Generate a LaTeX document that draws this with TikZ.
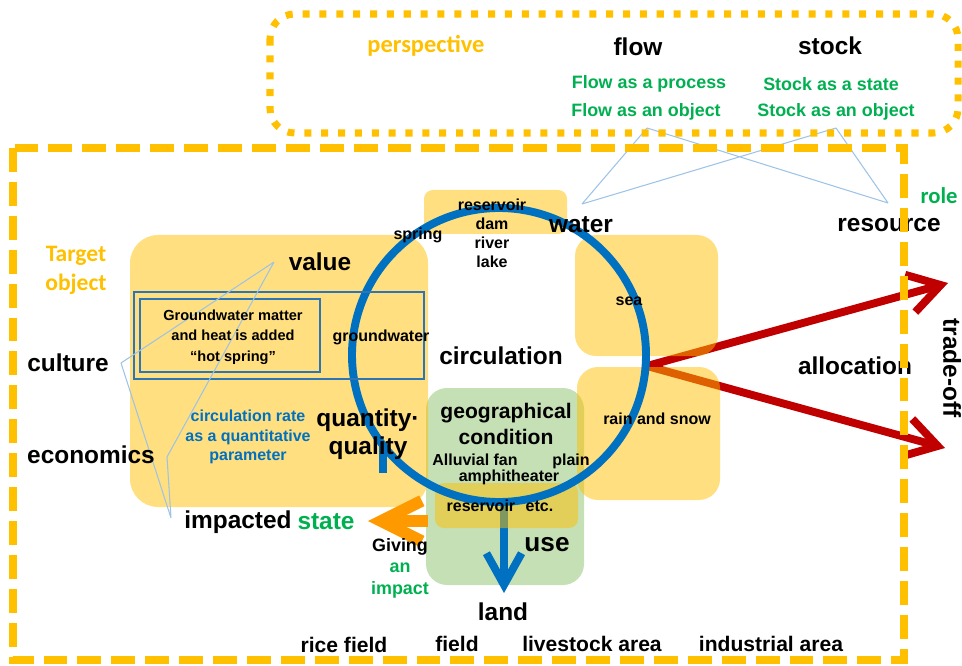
\documentclass[tikz,border=0pt]{standalone}
\usepackage{fontspec}
\setmainfont{Liberation Sans}
\newfontfamily\calibri{Carlito}
\usetikzlibrary{arrows.meta}

\definecolor{frameyellow}{HTML}{FFC000}
\definecolor{rolegreen}{HTML}{00B050}
\definecolor{circblue}{HTML}{0070C0}
\definecolor{rectblue}{HTML}{2E75B6}
\definecolor{thinblue}{HTML}{9DC3E6}
\definecolor{usegreen}{HTML}{C5E0B4}
\definecolor{allocred}{HTML}{C00000}
\definecolor{impactorange}{HTML}{FF9900}

\begin{document}
\begin{tikzpicture}[x=0.02cm, y=-0.02cm,
  big/.style={font=\fontsize{13.9}{16}\selectfont\bfseries},
  mid/.style={font=\fontsize{12}{14.7}\selectfont\bfseries},
  sml/.style={font=\fontsize{9.1}{10.8}\selectfont\bfseries},
  grn/.style={font=\fontsize{10.2}{12}\selectfont\bfseries, text=rolegreen},
  yelbox/.style={fill=frameyellow, fill opacity=0.5, rounded corners=12pt},
  callout/.style={thinblue, line width=0.6pt},
  fatarrow/.style={line width=4.5pt, -{Straight Barb[length=18pt, width=22pt]}}]
\useasboundingbox (0,0) rectangle (962,665);

% allocation arrows, under the boxes
\coordinate (alloc) at (647,366);
\coordinate (tradeup) at (948,283);
\coordinate (tradedn) at (945,448);
\draw[fatarrow, allocred] (alloc) -- (tradeup);
\draw[fatarrow, allocred] (alloc) -- (tradedn);

% boxes
\fill[usegreen, rounded corners=12pt] (426,388) rectangle (584,585);
\fill[yelbox, rounded corners=16pt] (130,235) rectangle (428,507);
\fill[yelbox, rounded corners=5pt] (424,190) rectangle (567,234);
\fill[yelbox] (575,235) rectangle (718,356);
\fill[yelbox] (577,367) rectangle (720,500);

% use arrow, reservoir box and the circulation ring
\coordinate (cc) at (499,355);
\coordinate (circbot) at (504,500);
\coordinate (landtip) at (504,593);
\draw[circblue, line width=4.5pt, -{Straight Barb[length=18pt, width=20pt]}] (circbot) -- (landtip);
\fill[yelbox, rounded corners=5pt] (435,483) rectangle (578,528);
\draw[circblue, line width=4.5pt] (cc) circle[radius=147];
\coordinate (cirtip) at (383,445);
\draw[circblue, line width=4.5pt] (cirtip) -- ++(0,28);

% impact arrow
\coordinate (geoleft) at (428,521);
\coordinate (giving) at (368,521);
\draw[impactorange, line width=6.8pt, -{Straight Barb[length=23pt, width=23pt]}] (geoleft) -- (giving);

% hot spring frames
\draw[rectblue, line width=0.85pt] (134,292) rectangle (424,379);
\draw[rectblue, line width=0.85pt] (140,299) rectangle (320,372);

% callout lines
\coordinate (fo) at (647,128);
\coordinate (so) at (836,128);
\coordinate (wa) at (582,204);
\coordinate (re) at (888,203);
\draw[callout] (fo) -- (wa) (fo) -- (re) (so) -- (wa) (so) -- (re);
\coordinate (va) at (274,262);
\coordinate (cu) at (121,363);
\coordinate (ec) at (167,457);
\coordinate (im) at (171,518);
\draw[callout] (va) -- (cu) (va) -- (ec) (cu) -- (im) (ec) -- (im);

% perspective box
\node[font=\calibri\fontsize{13.9}{16}\selectfont\bfseries, text=frameyellow] (persp) at (426,46) {perspective};
\node[big] (flow) at (638,47) {flow};
\node[big] (stock) at (830,46) {stock};
\node[grn] (fproc) at (649,84) {Flow as a process};
\node[grn] (sstate) at (831,84) {Stock as a state};
\node[grn] (fobj) at (646,112) {Flow as an object};
\node[grn] (sobj) at (836,112) {Stock as an object};

% left side
\node[font=\calibri\fontsize{13.4}{16.4}\selectfont\bfseries, text=frameyellow, align=center] (target) at (76,270) {Target\\object};
\node[big] (culture) at (68,363) {culture};
\node[big] (econ) at (91,455) {economics};
\node[big] (value) at (320,262) {value};
\node[font=\fontsize{8.3}{11.6}\selectfont\bfseries, align=center] (hot) at (233,337) {Groundwater matter\\and heat is added\\“hot spring”};
\node[sml] (gw) at (381,337) {groundwater};
\node[font=\fontsize{9.1}{11}\selectfont\bfseries, text=circblue, align=center] (rate) at (248,437) {circulation rate\\as a quantitative\\parameter};
\node[font=\fontsize{13.9}{15.9}\selectfont\bfseries, align=center] (qq) at (368,434) {quantity·\\quality};
\node[big] (impacted) at (238,522) {impacted};
\node[big, text=rolegreen] (state) at (326,522) {state};
\node[font=\fontsize{10.2}{12.2}\selectfont\bfseries, align=center] (givimp) at (400,568) {Giving\\\textcolor{rolegreen}{an}\\\textcolor{rolegreen}{impact}};

% centre
\node[font=\fontsize{9.1}{10.8}\selectfont\bfseries, align=center] (resv) at (492,233) {reservoir\\dam\\river\\lake};
\node[sml] (spring) at (418,235) {spring};
\node[big] (water) at (581,225) {water};
\node[sml] (sea) at (629,301) {sea};
\node[big] (circ) at (501,356) {circulation};
\node[font=\fontsize{12}{14.7}\selectfont\bfseries, align=center] (geo) at (506,424) {geographical\\condition};
\node[sml] (alluv) at (475,460) {Alluvial fan};
\node[sml] (plain) at (571,461) {plain};
\node[sml] (amph) at (509,477) {amphitheater};
\node[sml] (resetc) at (500,506) {reservoir\hspace{6pt}etc.};
\node[font=\fontsize{14.9}{17}\selectfont\bfseries] (use) at (547,545) {use};
\node[sml] (rain) at (657,419) {rain and snow};
\node[big] (land) at (503,612) {land};

% right side
\node[big] (alloclabel) at (855,366) {allocation};
\node[big] (resource) at (889,225) {resource};
\node[font=\calibri\fontsize{12.9}{15}\selectfont\bfseries, text=rolegreen] (role) at (939,196) {role};
\node[big, rotate=-90] (trade) at (952,368) {trade-off};

% land use
\node[mid] (rice) at (344,645) {rice field};
\node[mid] (field) at (457,644) {field};
\node[mid] (livestock) at (592,644) {livestock area};
\node[mid] (industry) at (771,644) {industrial area};

% frames
\draw[frameyellow, line width=4pt, dash pattern=on 4pt off 5.6pt, rounded corners=14pt] (270,14) rectangle (958,133);
\draw[frameyellow, line width=4.5pt, dash pattern=on 13.6pt off 5.7pt] (13,148) rectangle (904,660);
\end{tikzpicture}
\end{document}
